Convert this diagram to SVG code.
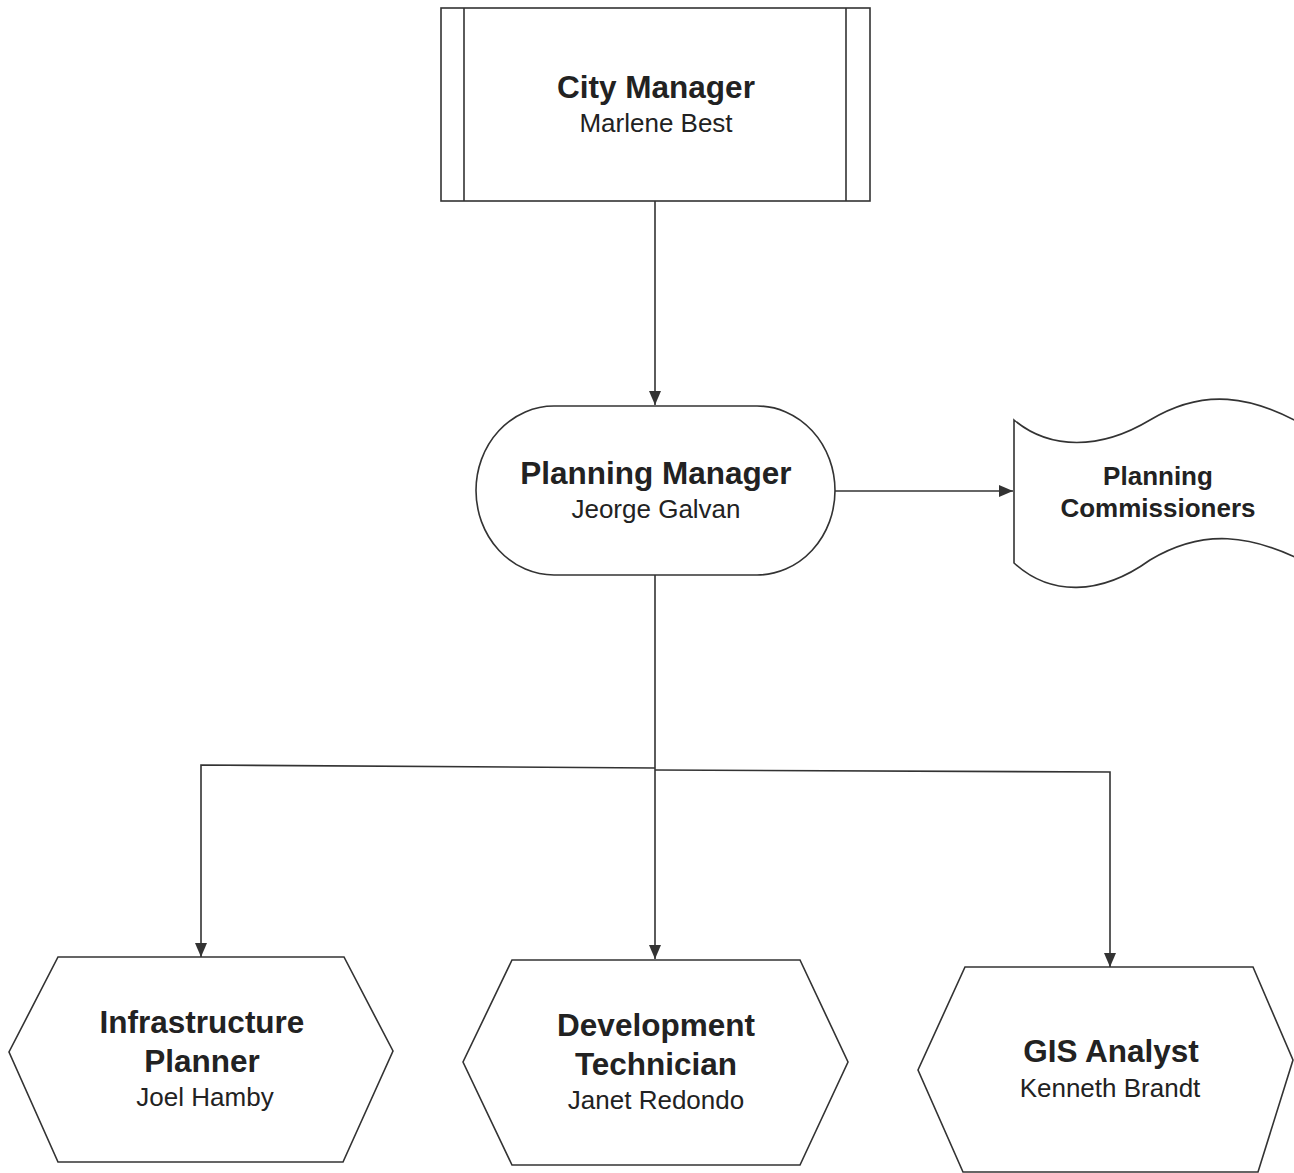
<svg xmlns="http://www.w3.org/2000/svg" width="1294" height="1173" viewBox="0 0 1294 1173">
<style>
.shape{fill:#fff;stroke:#333;stroke-width:1.6}
.conn{fill:none;stroke:#333;stroke-width:1.6}
.t{font-family:"Liberation Sans",Arial,sans-serif;fill:#222;text-anchor:middle}
.b{font-weight:bold;font-size:31.5px}
.bs{font-weight:bold;font-size:26px}
.r{font-size:26px}
</style>
<defs>
<marker id="arr" viewBox="0 0 14 12" refX="14" refY="6" markerWidth="14" markerHeight="12" markerUnits="userSpaceOnUse" orient="auto">
<path d="M0,0 L14,6 L0,12 Z" fill="#333"/>
</marker>
</defs>
<rect width="1294" height="1173" fill="#fff"/>
<g id="connectors">
<path class="conn" d="M655,201 V405" marker-end="url(#arr)"/>
<path class="conn" d="M835,491 H1013" marker-end="url(#arr)"/>
<path class="conn" d="M655,575 V770"/>
<path class="conn" d="M655,768 L201,765 V957" marker-end="url(#arr)"/>
<path class="conn" d="M655,770 V959" marker-end="url(#arr)"/>
<path class="conn" d="M655,770 L1110,772 V967" marker-end="url(#arr)"/>
</g>
<g id="city-manager">
<rect class="shape" x="441" y="8" width="429" height="193"/>
<line class="conn" x1="464" y1="8" x2="464" y2="201"/>
<line class="conn" x1="846" y1="8" x2="846" y2="201"/>
<text class="t b" x="656" y="98">City Manager</text>
<text class="t r" x="656" y="132">Marlene Best</text>
</g>
<g id="planning-manager">
<rect class="shape" x="476" y="406" width="359" height="169" rx="78" ry="84.5"/>
<text class="t b" x="656" y="484">Planning Manager</text>
<text class="t r" x="656" y="518">Jeorge Galvan</text>
</g>
<g id="planning-commissioners">
<path class="shape" d="M1014,420 C1050,450 1100,450 1150,420 C1200,390 1250,390 1320,435 L1320,570 C1250,530 1200,530 1150,560 C1100,596 1050,596 1014,563 Z"/>
<text class="t bs" x="1158" y="485">Planning</text>
<text class="t bs" x="1158" y="517">Commissioners</text>
</g>
<g id="infrastructure-planner">
<polygon class="shape" points="58,957 344,957 393,1051 343,1162 58,1162 9,1052"/>
<text class="t b" x="202" y="1033">Infrastructure</text>
<text class="t b" x="202" y="1072">Planner</text>
<text class="t r" x="205" y="1106">Joel Hamby</text>
</g>
<g id="development-technician">
<polygon class="shape" points="512,960 800,960 848,1062 800,1165 512,1165 463,1062"/>
<text class="t b" x="656" y="1036">Development</text>
<text class="t b" x="656" y="1075">Technician</text>
<text class="t r" x="656" y="1109">Janet Redondo</text>
</g>
<g id="gis-analyst">
<polygon class="shape" points="965,967 1253,967 1293,1060 1258,1172 963,1172 918,1070"/>
<text class="t b" x="1111" y="1062">GIS Analyst</text>
<text class="t r" x="1110" y="1097">Kenneth Brandt</text>
</g>
</svg>
